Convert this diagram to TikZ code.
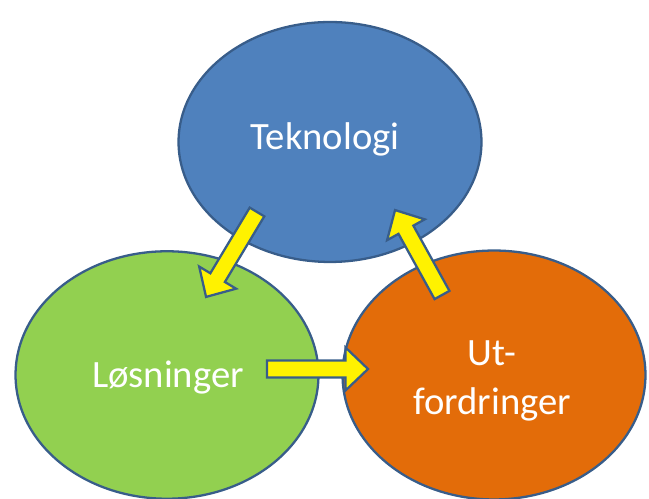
\documentclass[tikz,border=0pt]{standalone}
\usepackage{fontspec}
\setmainfont{Carlito}
\usetikzlibrary{calc,shapes.geometric}
\definecolor{ofblue}{HTML}{4F81BD}
\definecolor{ofgreen}{HTML}{92D050}
\definecolor{oforange}{HTML}{E36C09}
\definecolor{ofline}{HTML}{385D8A}
\newcommand\fatarrow[2]{%
  \filldraw[arrowbox] let \p1=(#1), \p2=(#2),
    \n1={atan2(\y2-\y1,\x2-\x1)}, \n2={veclen(\x2-\x1,\y2-\y1)} in
    [shift={(\p1)}, rotate=\n1]
    (0cm,-0.17cm) -- ({\n2-0.45cm},-0.17cm) -- ({\n2-0.45cm},-0.43cm) --
    (\n2,0cm) -- ({\n2-0.45cm},0.43cm) -- ({\n2-0.45cm},0.17cm) --
    (0cm,0.17cm) -- cycle;}
\begin{document}
\begin{tikzpicture}[x=0.02cm,y=-0.02cm,
  blob/.style={ellipse, draw=ofline, line width=1.3pt, inner sep=0pt},
  lbl/.style={text=white, font=\fontsize{22}{27.5}\selectfont, align=center},
  arrowbox/.style={fill=yellow, draw=ofline, line width=1.3pt, line join=miter}]
\useasboundingbox (0,0) rectangle (649,499);
\node[blob, fill=ofblue, minimum width=6.06cm, minimum height=4.8cm] (tek) at (330,142) {};
\node[lbl] (tekl) at (325,139) {Teknologi};
\node[blob, fill=ofgreen, minimum width=6.06cm, minimum height=4.95cm] (los) at (167,375) {};
\node[lbl] (losl) at (168,378) {Løsninger};
\node[blob, fill=oforange, minimum width=6.06cm, minimum height=4.98cm] (utf) at (494,375) {};
\node[lbl] (utfl) at (492,381) {Ut-\\fordringer};
\coordinate (a1s) at (257,212);
\coordinate (a1e) at (206,297);
\coordinate (a2s) at (442,295);
\coordinate (a2e) at (395,210);
\coordinate (a3s) at (267,369);
\coordinate (a3e) at (368,369);
\fatarrow{a1s}{a1e}
\fatarrow{a2s}{a2e}
\fatarrow{a3s}{a3e}
\end{tikzpicture}
\end{document}
